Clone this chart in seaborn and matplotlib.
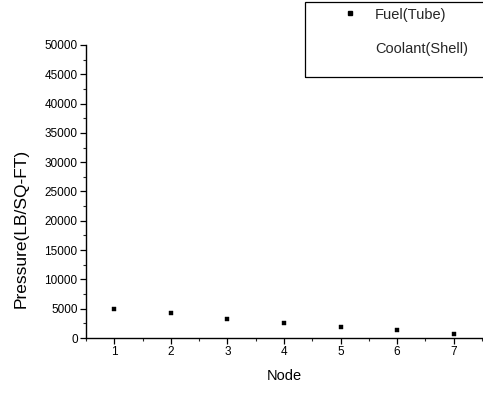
import matplotlib
matplotlib.use("Agg")
import matplotlib.pyplot as plt
from matplotlib.lines import Line2D
from matplotlib.patches import Rectangle
from matplotlib.ticker import MultipleLocator
import seaborn as sns
import pandas as pd

nodes = [1, 2, 3, 4, 5, 6, 7]
fuel_pressure = [5000, 4250, 3300, 2600, 1900, 1300, 750]
series_labels = ["Fuel(Tube)", "Coolant(Shell)"]
y_ticks = [0, 5000, 10000, 15000, 20000, 25000, 30000, 35000, 40000, 45000, 50000]
x_ticks = [1, 2, 3, 4, 5, 6, 7]

df = pd.DataFrame({"Node": nodes, "Pressure": fuel_pressure})

sns.set_theme(style="ticks")
plt.rcParams['font.family'] = ['Liberation Sans', 'DejaVu Sans']

W, H = 483, 394
fig = plt.figure(figsize=(W / 100, H / 100), dpi=100)
ax = fig.add_axes([0.178, 0.142, 0.82, 0.744])

sns.scatterplot(data=df, x="Node", y="Pressure", ax=ax, marker="s", s=5,
                color="black", edgecolor="black", linewidth=0.3, legend=False)

ax.set_xlim(0.5, 7.5)
ax.set_ylim(0, 50000)
ax.set_xticks(x_ticks)
ax.set_yticks(y_ticks)
ax.xaxis.set_minor_locator(MultipleLocator(0.5))
ax.yaxis.set_minor_locator(MultipleLocator(2500))
ax.tick_params(axis="both", which="major", direction="out", length=4, width=0.9,
               labelsize=8.5, colors="black", pad=2)
ax.tick_params(axis="both", which="minor", direction="out", length=2, width=0.8)
for s in ["top", "right"]:
    ax.spines[s].set_visible(False)
for s in ["left", "bottom"]:
    ax.spines[s].set_color("black")
    ax.spines[s].set_linewidth(1.0)

ax.set_xlabel("Node", fontsize=10.5, labelpad=8, color="black")
ax.set_ylabel("Pressure(LB/SQ-FT)", fontsize=12.5, color="black")
ax.yaxis.set_label_coords(-0.145, 0.375)

handles = [
    Line2D([], [], marker="s", markersize=2.2, color="black", linestyle="none"),
    Line2D([], [], marker="none", linestyle="none"),
]
leg = fig.legend(handles, series_labels, loc="upper left",
                 bbox_to_anchor=(335.5 / W, 1 - 7.6 / H),
                 fontsize=10.5, frameon=False, handlelength=2.0,
                 handletextpad=0.72, borderpad=0, labelspacing=1.37,
                 borderaxespad=0)

frame = Rectangle((305 / W, 1 - 77 / H), 0.4, 75 / H, transform=fig.transFigure,
                  fill=False, edgecolor="black", linewidth=0.9)
fig.patches.append(frame)

fig.savefig("out.png", dpi=100)
